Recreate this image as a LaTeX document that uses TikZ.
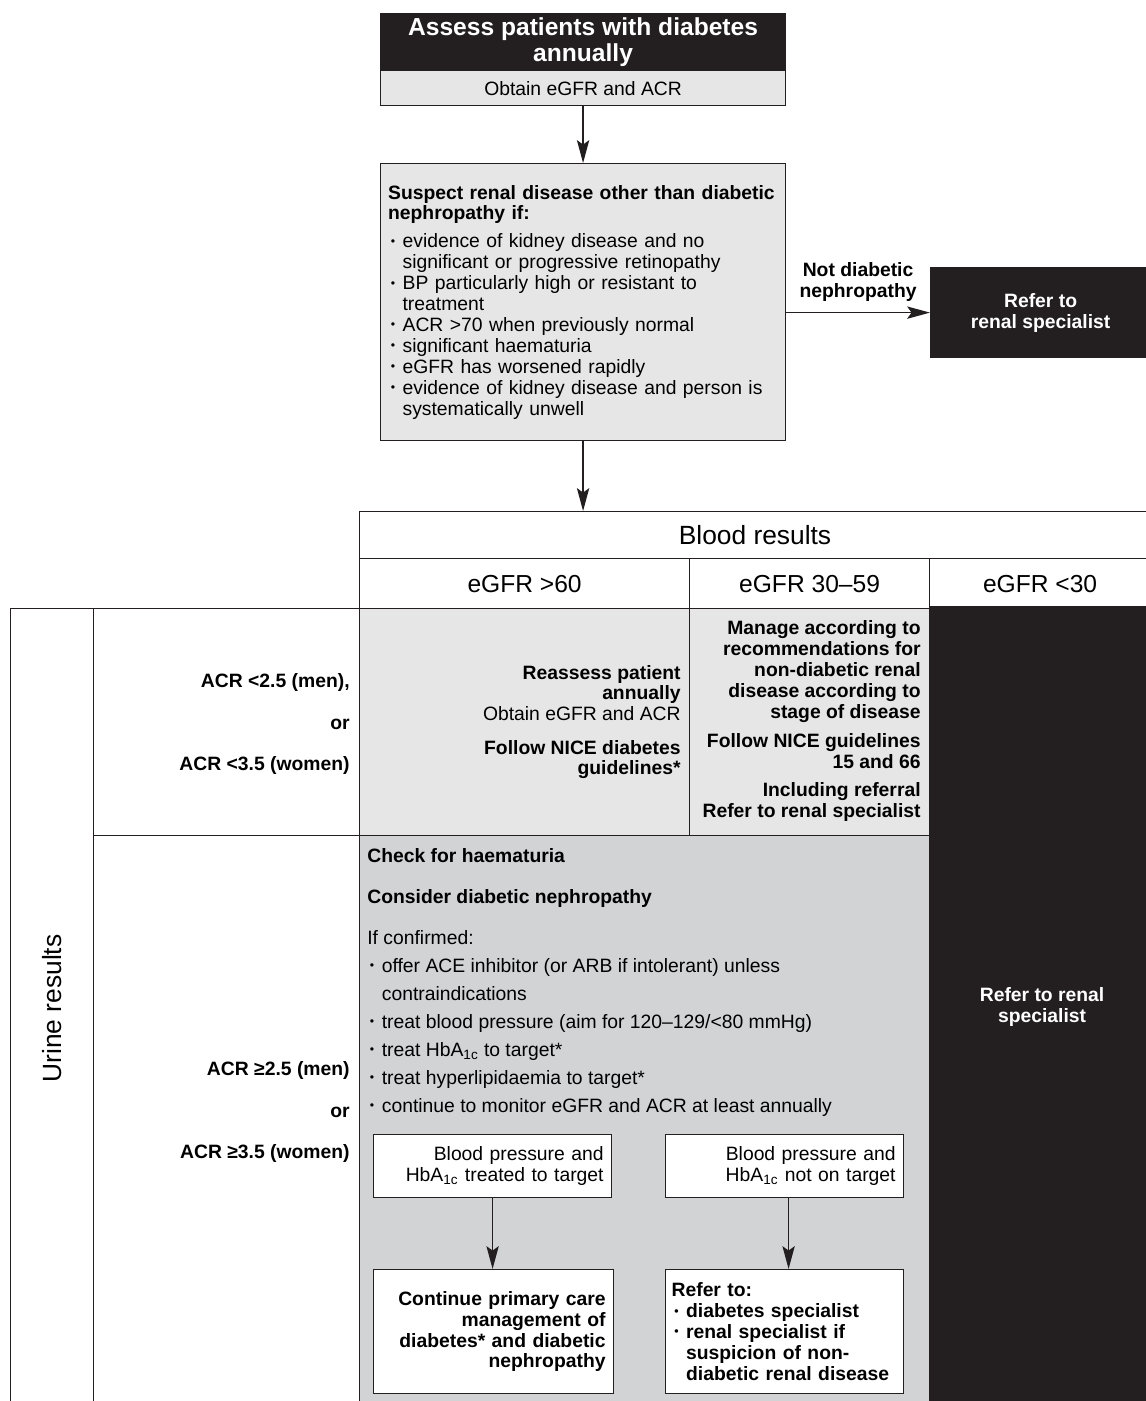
\documentclass[tikz,border=0pt]{standalone}
\usepackage{fontspec}
\setmainfont{Liberation Sans}
\usetikzlibrary{arrows.meta,positioning}
\definecolor{inkblack}{HTML}{231F20}
\definecolor{palegrey}{HTML}{E6E6E6}
\definecolor{midgrey}{HTML}{D2D3D5}
\newcommand{\dotitem}{\makebox[0.75em][l]{\hspace{1.5pt}\raisebox{0.25ex}{\fontsize{7}{7}\selectfont\textbullet}}}
\newcommand{\dotindent}{\hspace*{0.75em}}
\newcommand{\hba}{HbA\textsubscript{1c}}
\begin{document}
\begin{tikzpicture}[x=0.02cm, y=-0.02cm,
  every node/.style={font=\fontsize{11}{11.9}\selectfont, inner sep=0pt},
  cell/.style={draw=inkblack, line width=0.7pt, anchor=north west},
  darkcell/.style={cell, fill=inkblack, text=white, align=center, font=\fontsize{11}{11.9}\selectfont\bfseries},
  headcell/.style={cell, fill=white, font=\fontsize{14}{16}\selectfont},
  flow/.style={draw=inkblack, line width=0.8pt, -{Stealth[length=13pt,width=7pt,inset=2.5pt]}}]
\useasboundingbox (0,0) rectangle (1146,1401);

\node[darkcell, minimum width=8.1cm, minimum height=1.14cm, font=\fontsize{14}{15.3}\selectfont\bfseries] (assess) at (380,13) {Assess patients with diabetes\\annually};
\node[cell, fill=palegrey, minimum width=8.1cm, minimum height=0.7cm] (obtain) at (380,70) {Obtain eGFR and ACR};
\node[cell, fill=palegrey, minimum width=8.1cm, minimum height=5.54cm, text width=7.8cm, inner xsep=0.15cm, align=left] (suspect) at (380,163) {%
\textbf{Suspect renal disease other than diabetic}\\
\textbf{nephropathy if:}\\[4pt]
\dotitem evidence of kidney disease and no\\
\dotindent significant or progressive retinopathy\\
\dotitem BP particularly high or resistant to\\
\dotindent treatment\\
\dotitem ACR >70 when previously normal\\
\dotitem significant haematuria\\
\dotitem eGFR has worsened rapidly\\
\dotitem evidence of kidney disease and person is\\
\dotindent systematically unwell};
\node[darkcell, minimum width=4.4cm, minimum height=1.8cm] (refer) at (930,267) {Refer to\\renal specialist};

\node[headcell, minimum width=15.82cm, minimum height=0.94cm, font=\fontsize{15}{17}\selectfont] (blood) at (359,511) {Blood results};
\node[headcell, minimum width=6.6cm, minimum height=1.0cm] (gfrhigh) at (359,558) {eGFR >60};
\node[headcell, minimum width=4.8cm, minimum height=1.0cm] (gfrmid) at (689,558) {eGFR 30–59};
\node[headcell, minimum width=4.42cm, minimum height=1.0cm] (gfrlow) at (929,558) {eGFR <30};

\node[cell, minimum width=1.66cm, minimum height=16cm] (urine) at (10,608) {};
\node[rotate=90, font=\fontsize{15}{17}\selectfont] (urinelabel) at (urine.center) {Urine results};
\node[cell, minimum width=5.32cm, minimum height=4.54cm] (acrlow) at (93,608) {};
\node[cell, minimum width=5.32cm, minimum height=11.5cm] (acrhigh) at (93,835) {};
\node[anchor=east, align=right, font=\fontsize{11}{23.8}\selectfont\bfseries] (acrlowtext) at (350,724) {ACR <2.5 (men),\\or\\ACR <3.5 (women)};
\node[anchor=east, align=right, font=\fontsize{11}{23.8}\selectfont\bfseries] (acrhightext) at (350,1112) {ACR ≥2.5 (men)\\or\\ACR ≥3.5 (women)};

\node[cell, fill=palegrey, minimum width=6.6cm, minimum height=4.54cm] (keepcell) at (359,608) {};
\node[cell, fill=palegrey, minimum width=4.8cm, minimum height=4.54cm] (managecell) at (689,608) {};
\node[anchor=east, align=right] (keeptext) at (681,722) {%
\textbf{Reassess patient}\\
\textbf{annually}\\
Obtain eGFR and ACR\\[7pt]
\textbf{Follow NICE diabetes}\\
\textbf{guidelines*}};
\node[anchor=east, align=right, font=\fontsize{11}{11.9}\selectfont\bfseries] (managetext) at (921,721) {%
Manage according to\\
recommendations for\\
non-diabetic renal\\
disease according to\\
stage of disease\\[5pt]
Follow NICE guidelines\\
15 and 66\\[4pt]
Including referral\\
Refer to renal specialist};

\node[cell, fill=midgrey, minimum width=11.4cm, minimum height=11.5cm] (confirm) at (359,835) {};
\node[anchor=north west, align=left, font=\fontsize{11}{15.9}\selectfont] (confirmtext) at (367,848) {%
\textbf{Check for haematuria}\\[7.5pt]
\textbf{Consider diabetic nephropathy}\\[7.5pt]
If confirmed:\\
\dotitem offer ACE inhibitor (or ARB if intolerant) unless\\
\dotindent contraindications\\
\dotitem treat blood pressure (aim for 120–129/<80 mmHg)\\
\dotitem treat \hba{} to target*\\
\dotitem treat hyperlipidaemia to target*\\
\dotitem continue to monitor eGFR and ACR at least annually};
\node[darkcell, minimum width=4.5cm, minimum height=16cm] (renalcol) at (929,606) {Refer to renal\\specialist};

\node[cell, fill=white, minimum width=4.76cm, minimum height=1.26cm, text width=4.44cm, inner xsep=0.16cm, align=right] (bpok) at (373,1134) {Blood pressure and\\\hba{} treated to target};
\node[cell, fill=white, minimum width=4.76cm, minimum height=1.26cm, text width=4.44cm, inner xsep=0.16cm, align=right] (bpnot) at (665,1134) {Blood pressure and\\\hba{} not on target};
\node[cell, fill=white, minimum width=4.8cm, minimum height=2.48cm, text width=4.48cm, inner xsep=0.16cm, align=right, font=\fontsize{11}{11.9}\selectfont\bfseries] (primary) at (373,1269) {Continue primary care\\management of\\diabetes* and diabetic\\nephropathy};
\node[cell, fill=white, minimum width=4.76cm, minimum height=2.48cm, text width=4.52cm, inner xsep=0.12cm, align=left, font=\fontsize{11}{11.9}\selectfont\bfseries] (referto) at (665,1269) {Refer to:\\\dotitem diabetes specialist\\\dotitem renal specialist if\\\dotindent suspicion of non-\\\dotindent diabetic renal disease};

\draw[flow] (obtain) -- (suspect);
\draw[flow] (suspect.east |- refer.west) -- node[above=6pt, align=center, font=\fontsize{11}{11.9}\selectfont\bfseries] (notdn) {Not diabetic\\nephropathy} (refer.west);
\draw[flow] (suspect) -- (suspect.south |- blood.north);
\draw[flow] (bpok) -- (bpok.south |- primary.north);
\draw[flow] ([xshift=0.08cm]bpnot.south) -- ([xshift=0.08cm]bpnot.south |- referto.north);
\end{tikzpicture}
\end{document}
